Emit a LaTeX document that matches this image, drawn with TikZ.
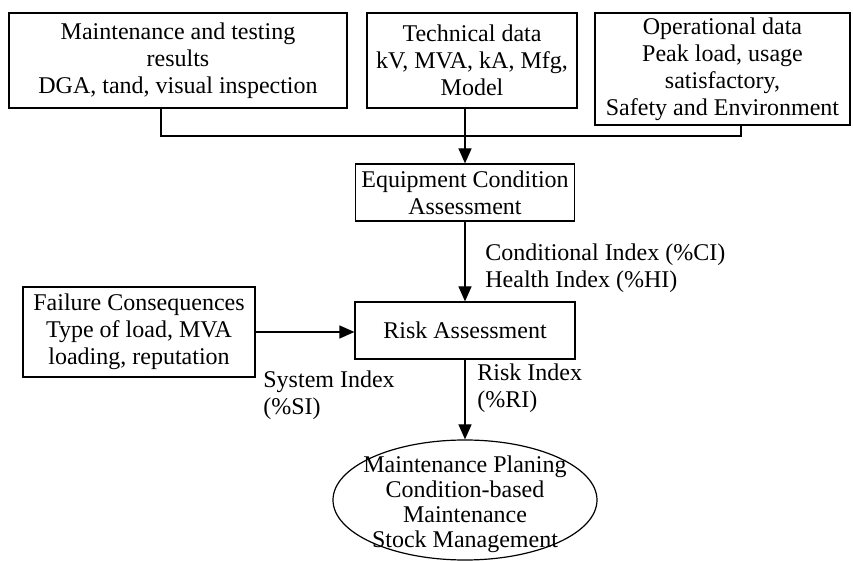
\documentclass[tikz,border=0pt]{standalone}
\usepackage{fontspec}
\setmainfont{Liberation Serif}
\usetikzlibrary{shapes.geometric,arrows.meta}
\begin{document}
\begin{tikzpicture}[x=0.5pt,y=-0.5pt,
  font=\fontsize{12}{13.5}\selectfont,
  box/.style={draw,line width=0.6pt,align=center,inner sep=0pt},
  arr/.style={line width=0.6pt,-{Triangle[length=7.5pt,width=6.5pt]}},
  conn/.style={line width=0.6pt},
  lbl/.style={align=left,inner sep=0pt,anchor=west}]
\useasboundingbox (0,0) rectangle (853,561);
\node[box,minimum width=169pt,minimum height=47.5pt] (b1) at (178,60.5)
  {Maintenance and testing\\results\\DGA, tand, visual inspection};
\node[box,minimum width=105pt,minimum height=47.5pt] (b2) at (472,60.5)
  {Technical data\\kV, MVA, kA, Mfg,\\Model};
\node[box,minimum width=127.5pt,minimum height=56pt] (b3) at (722.5,69)
  {Operational data\\Peak load, usage\\satisfactory,\\Safety and Environment};
\coordinate (j) at (465,136);
\node[box,minimum width=109.5pt,minimum height=28.5pt] (eq) at (465,192.5)
  {Equipment Condition\\Assessment};
\node[box,minimum width=110pt,minimum height=28.5pt] (risk) at (465,330.5)
  {Risk Assessment};
\node[box,minimum width=116pt,minimum height=45pt] (fail) at (139,332)
  {Failure Consequences\\Type of load, MVA\\loading, reputation};
\node[draw,ellipse,line width=0.6pt,inner sep=0pt,
  minimum width=132pt,minimum height=60pt] (mp) at (465,500) {};
\node[align=center,inner sep=0pt,font=\fontsize{12}{12.5}\selectfont] (mptext) at (465,504)
  {Maintenance Planing\\Condition-based\\Maintenance\\Stock Management};
\draw[conn] ([xshift=-8.5pt]b1.south) |- (j);
\draw[conn] ([xshift=9.25pt]b3.south) |- (j);
\draw[arr] ([xshift=-3.5pt]b2.south) -- (eq.north);
\draw[arr] (eq.south) -- (risk.north);
\draw[arr] (fail.east) -- (fail.east -| risk.west);
\draw[arr] (risk.south) -- (mp.north);
\node[lbl] (ci) at (485,268.5) {Conditional Index (\%CI)\\Health Index (\%HI)};
\node[lbl] (si) at (263,395.5) {System Index\\(\%SI)};
\node[lbl] (ri) at (477,388.5) {Risk Index\\(\%RI)};
\end{tikzpicture}
\end{document}
